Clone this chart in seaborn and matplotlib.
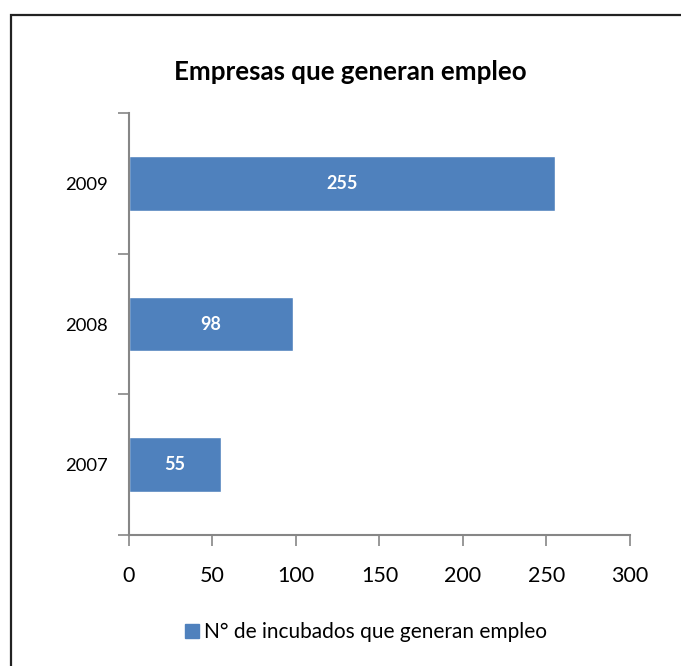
import pandas as pd
import numpy as np
import matplotlib
matplotlib.use('Agg')
import matplotlib.pyplot as plt
import seaborn as sns
from matplotlib.patches import Rectangle
from matplotlib.lines import Line2D

# data
years = ['2009', '2008', '2007']
empresas = [255, 98, 55]
serie = 'N° de incubados que generan empleo'

df = pd.DataFrame({'anio': years, 'valor': empresas})

sns.set_style('white')
plt.rcParams['font.family'] = ['Lato', 'DejaVu Sans']
plt.rcParams['text.color'] = 'black'
plt.rcParams['xtick.color'] = 'black'
plt.rcParams['ytick.color'] = 'black'

azul = '#4F81BD'
gris = '#868686'

fig = plt.figure(figsize=(6.81, 6.66), dpi=100)
ax = fig.add_axes([0.1894, 0.1967, 0.9251 - 0.1894, 0.8303 - 0.1967])

sns.barplot(data=df, x='valor', y='anio', order=years, color=azul,
            saturation=1, width=0.39, orient='h', ax=ax)

# value labels inside the bars
for c in ax.containers:
    ax.bar_label(c, labels=[str(v) for v in empresas], label_type='center',
                 color='white', fontweight='bold', fontsize=13)

ax.set_xlim(0, 300)
ax.set_ylim(2.5, -0.5)
ax.set_xticks(np.arange(0, 301, 50))
ax.set_xlabel('')
ax.set_ylabel('')

# category ticks sit between the bars
ax.set_yticks([-0.5, 0.5, 1.5, 2.5], minor=True)
ax.tick_params(axis='y', which='major', left=False, labelsize=13.3, pad=12)
ax.tick_params(axis='y', which='minor', left=True, length=8, color=gris,
               width=1.2, direction='out')
ax.tick_params(axis='x', which='major', length=8, color=gris, width=1.2,
               direction='out', labelsize=15.5, pad=14, bottom=True)

for s in ['top', 'right']:
    ax.spines[s].set_visible(False)
for s in ['left', 'bottom']:
    ax.spines[s].set_color(gris)
    ax.spines[s].set_linewidth(1.5)

fig.text(0.515, 0.892, 'Empresas que generan empleo', ha='center', va='center',
         fontsize=18.6, fontweight='bold')

handle = Line2D([], [], marker='s', linestyle='', markersize=10,
                markerfacecolor=azul, markeredgecolor=azul)
fig.legend([handle], [serie], loc='center', bbox_to_anchor=(0.534, 0.051),
           frameon=False, fontsize=15, handletextpad=0.05, handlelength=1.1,
           borderaxespad=0)

# chart border, running past the right and bottom edges
fig.patches.append(Rectangle((11 / 681, -0.05), 1.2, 1 - 15 / 666 + 0.05,
                             transform=fig.transFigure, fill=False,
                             edgecolor='#222222', linewidth=1.6))

fig.savefig('out.png', dpi=100)
